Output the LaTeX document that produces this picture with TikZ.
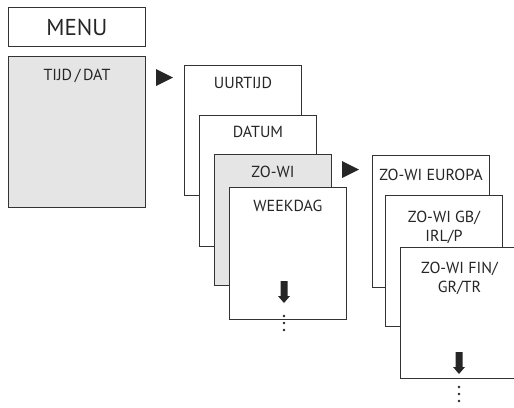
\documentclass[tikz,border=0pt]{standalone}
\usepackage{fontspec}
\setmainfont{PT Sans}
\usepackage{tikz}

\tikzset{
  menubox/.style={draw=black!80, line width=0.9pt, fill=white, anchor=north west, inner sep=0pt},
  graybox/.style={menubox, fill=black!10},
  boxtext/.style={anchor=base, inner sep=0pt, align=center, text=black!85, font=\fontsize{16}{19}\selectfont},
}

\begin{document}
\begin{tikzpicture}[x=1pt, y=-1pt]
\useasboundingbox (0, 0) rectangle (514, 407);

\node[menubox, minimum width=137, minimum height=39] (menu) at (8, 7) {};
\node[boxtext, font=\fontsize{23}{26}\selectfont] (menut) at ([yshift=-28]menu.north) {MENU};

\node[graybox, minimum width=137, minimum height=151] (tijd) at (8, 56) {};
\node[boxtext] (tijdt) at ([yshift=-24]tijd.north) {TIJD\,/\,DAT};

\fill[black!85] (156, 69) -- (156, 86) -- (173, 77.5) -- cycle;

\node[menubox, minimum width=117, minimum height=130] (uurtijd) at (184, 65) {};
\node[boxtext] (uurtijdt) at ([yshift=-23]uurtijd.north) {UURTIJD};
\node[menubox, minimum width=117, minimum height=131] (datum) at (199, 115) {};
\node[boxtext] (datumt) at ([yshift=-22]datum.north) {DATUM};
\node[graybox, minimum width=117, minimum height=131] (zowi) at (214, 154) {};
\node[boxtext] (zowit) at ([yshift=-23]zowi.north) {ZO-WI};
\node[menubox, minimum width=117, minimum height=132] (weekdag) at (229, 187) {};
\node[boxtext] (weekdagt) at ([yshift=-24]weekdag.north) {WEEKDAG};

\fill[black!85] (342, 161) -- (342, 178) -- (359, 169.5) -- cycle;

\node[menubox, minimum width=117, minimum height=132] (europa) at (372, 155) {};
\node[boxtext] (europat) at ([yshift=-25]europa.north) {ZO-WI EUROPA};
\node[menubox, minimum width=117, minimum height=131] (gb) at (385, 195) {};
\node[boxtext] (gbt) at ([yshift=-46]gb.north) {ZO-WI GB/\\IRL/P};
\node[menubox, minimum width=118, minimum height=131] (fin) at (400, 247) {};
\node[boxtext] (fint) at ([yshift=-45]fin.north) {ZO-WI FIN/\\GR/TR};

% scroll arrows
\foreach \x/\y in {284/281, 459/352} {
  \fill[black!85] (\x - 3.5, \y) -- (\x + 3.5, \y) -- (\x + 3.5, \y + 15)
    -- (\x + 6, \y + 15) -- (\x, \y + 22) -- (\x - 6, \y + 15)
    -- (\x - 3.5, \y + 15) -- cycle;
  \foreach \d in {35, 42, 49}
    \fill[black!85] (\x, \y + \d) circle (1.3);
}
\end{tikzpicture}
\end{document}
